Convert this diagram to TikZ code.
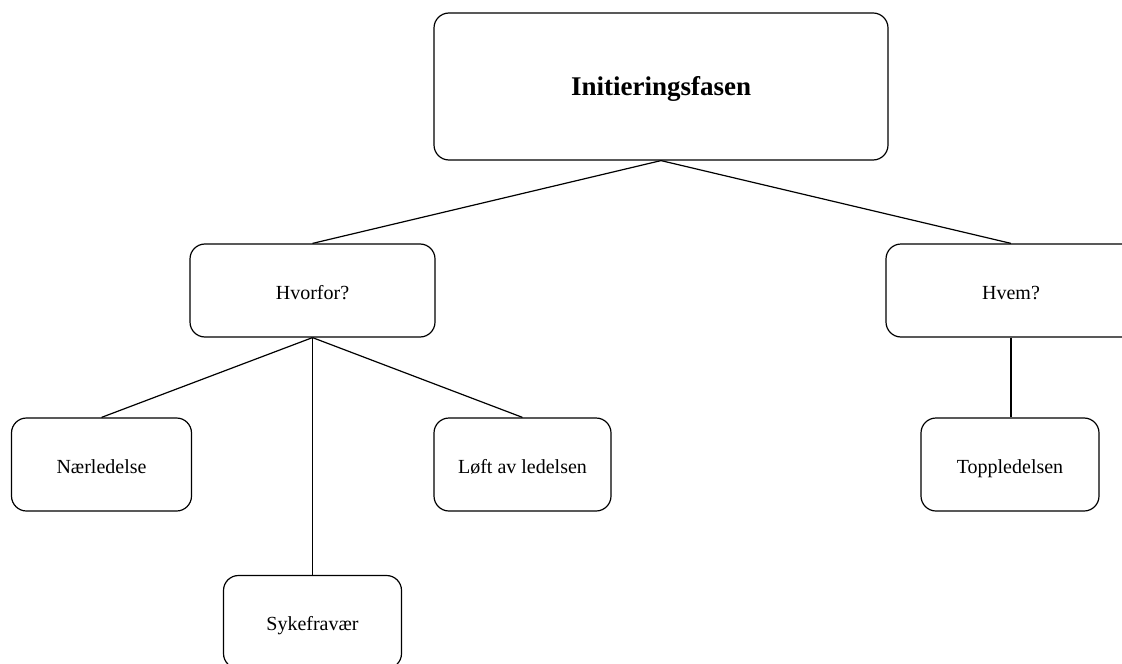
\documentclass[tikz,border=0pt]{standalone}
\usepackage{fontspec}
\setmainfont{Liberation Serif}
\usetikzlibrary{positioning}
\tikzset{
  boks/.style={draw, rounded corners=7.5pt, line width=0.6pt, align=center,
    text height=2.15ex, text depth=0.25ex,
    minimum height=46.5pt, font=\fontsize{10}{12}\selectfont},
  kant/.style={line width=0.6pt}
}

\begin{document}
\begin{tikzpicture}[x=0.5pt,y=-0.5pt]
\clip (0,0) rectangle (1122,663);
\node (init) [boks, minimum width=227pt, minimum height=73.5pt, font=\fontsize{13.5}{16}\selectfont\bfseries] at (661,86.5) {Initieringsfasen};
\node (hvorfor) [boks, minimum width=122.5pt] at (312.5,290.5) {Hvorfor?};
\node (hvem) [boks, minimum width=125pt] at (1011,290.5) {Hvem?};
\node (naer) [boks, minimum width=90pt] at (101.5,464.5) {Nærledelse};
\node (loft) [boks, minimum width=88.5pt] at (522.5,464.5) {Løft av ledelsen};
\node (topp) [boks, minimum width=89pt] at (1010,464.5) {Toppledelsen};
\node (syke) [boks, minimum width=89pt] at (312.5,622) {Sykefravær};
\draw [kant] (init.south) -- (hvorfor.north);
\draw [kant] (init.south) -- (hvem.north);
\draw [kant] (hvorfor.south) -- (naer.north);
\draw [kant] (hvorfor.south) -- (loft.north);
\draw [kant] (hvorfor.south) -- (syke.north);
\draw [kant] (hvem.south) -- (hvem.south |- topp.north);
\end{tikzpicture}
\end{document}
